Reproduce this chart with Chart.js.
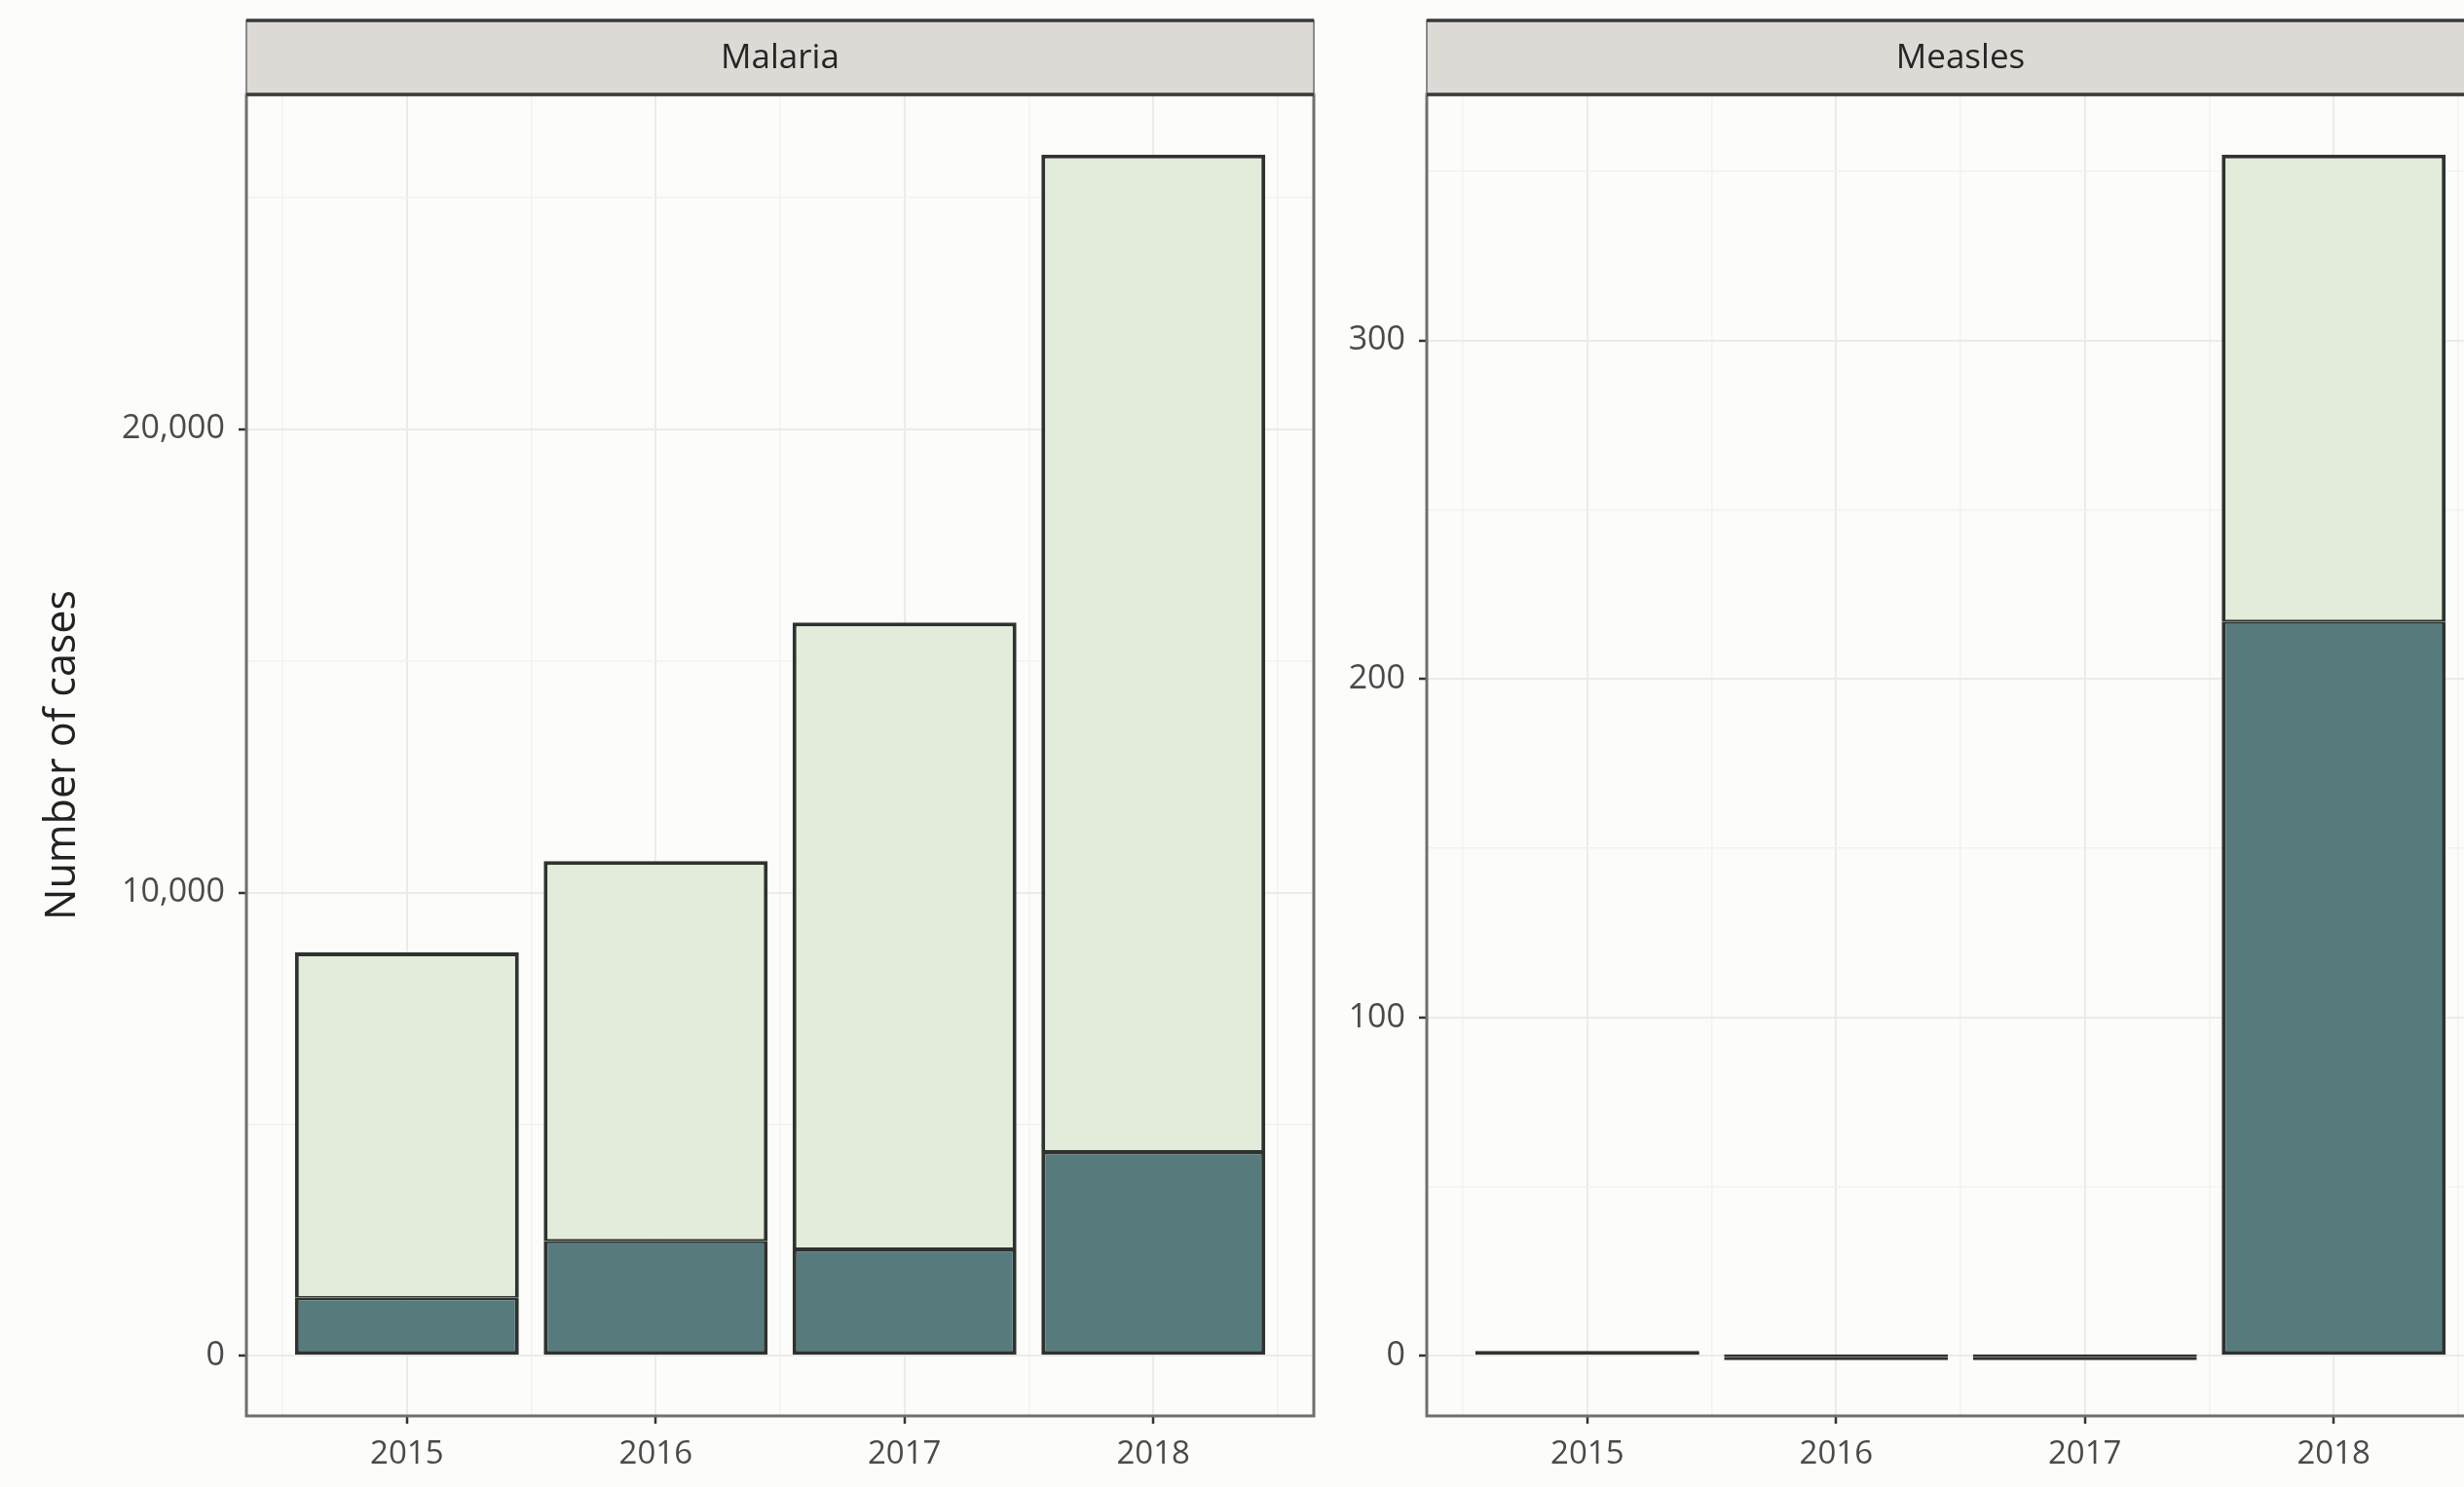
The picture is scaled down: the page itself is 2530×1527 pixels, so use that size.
<!DOCTYPE html>
<html>
<head>
<meta charset="utf-8">
<script src="https://cdn.jsdelivr.net/npm/chart.js@4.4.1/dist/chart.umd.min.js"></script>
<style>
    html, body { margin: 0; padding: 0; width: 2530px; height: 1527px; overflow: hidden; background: #fcfcfa; }
    canvas { position: absolute; top: 0; }
    #malariaChart { left: 0; }
    #measlesChart { left: 1352px; }
</style>
</head>
<body>
<canvas id="malariaChart" width="1400" height="1527"></canvas>
<canvas id="measlesChart" width="1260" height="1527"></canvas>
<script>
// data
const years = [2015, 2016, 2017, 2018];
const malariaLower = [1250, 2480, 2300, 4400];
const malariaUpper = [7460, 8200, 13530, 21530];
const measlesLower = [1, 0, 0, 217];
const measlesUpper = [0, 0, 0, 138];

// tick positions (major ones get labels, the others are minor grid lines)
const xMinorTicks = [2014.5, 2015.5, 2016.5, 2017.5, 2018.5];
const malariaTicks = [0, 5000, 10000, 15000, 20000, 25000];
const malariaMajor = [0, 10000, 20000];
const measlesTicks = [0, 50, 100, 150, 200, 250, 300, 350];
const measlesMajor = [0, 100, 200, 300];

const DARK = '#577b7d';
const LIGHT = '#e3ecda';
const OUTLINE = '#2e332f';
const FONT = "'Open Sans', 'Noto Sans', sans-serif";

// ggplot style 5% expansion on both ends
const expand = (lo, hi) => {
    const d = (hi - lo) * 0.05;
    return [lo - d, hi + d];
};

const tickVal = c => (c && c.tick) ? c.tick.value : null;

// grey strip above the panel with the facet name, plus the panel border
const facetPlugin = {
    id: 'facet',
    afterDraw(chart, args, opts) {
        const { ctx, chartArea: a } = chart;
        ctx.save();
        // panel border
        ctx.strokeStyle = '#6f6f6f';
        ctx.lineWidth = 3;
        ctx.strokeRect(a.left, a.top, a.right - a.left, a.bottom - a.top);
        // strip
        const top = a.top - 76;
        ctx.fillStyle = '#dddad6';
        ctx.fillRect(a.left, top, a.right - a.left, 76);
        ctx.strokeStyle = '#8a8a8a';
        ctx.lineWidth = 2;
        ctx.strokeRect(a.left, top, a.right - a.left, 76);
        ctx.strokeStyle = '#3a3a3a';
        ctx.lineWidth = 3.5;
        ctx.beginPath();
        ctx.moveTo(a.left, top); ctx.lineTo(a.right, top);
        ctx.moveTo(a.left, a.top); ctx.lineTo(a.right, a.top);
        ctx.stroke();
        ctx.fillStyle = '#262626';
        ctx.font = `35px ${FONT}`;
        ctx.textAlign = 'center';
        ctx.textBaseline = 'middle';
        ctx.fillText(opts.label, (a.left + a.right) / 2, top + 39);
        ctx.restore();
    }
};

const makePanel = (id, name, lower, upper, yTicks, yMajor, yAxisWidth, showTitle, minBar) => {
    const totals = lower.map((v, i) => v + upper[i]);
    const [yMin, yMax] = expand(0, Math.max(...totals));
    const [xMin, xMax] = expand(years[0] - 0.45, years[years.length - 1] + 0.45);
    const yIsMajor = v => v !== null && yMajor.includes(v);

    const barStyle = {
        xAxisID: 'x',
        yAxisID: 'y',
        borderColor: OUTLINE,
        borderSkipped: false,
        barPercentage: 0.9,
        categoryPercentage: 1.0,
        minBarLength: minBar
    };

    return new Chart(document.getElementById(id), {
        type: 'bar',
        data: {
            datasets: [
                {
                    label: 'lower',
                    data: years.map((y, i) => ({ x: y, y: lower[i] })),
                    backgroundColor: DARK,
                    borderWidth: { left: 4, right: 4, bottom: 4, top: 2.5 },
                    ...barStyle
                },
                {
                    label: 'upper',
                    data: years.map((y, i) => ({ x: y, y: upper[i] })),
                    backgroundColor: LIGHT,
                    borderWidth: { left: 4, right: 4, top: 4, bottom: 2 },
                    ...barStyle
                }
            ]
        },
        options: {
            responsive: false,
            animation: false,
            layout: { padding: { top: 97, right: 51, bottom: 0, left: 0 } },
            plugins: {
                legend: { display: false },
                tooltip: { enabled: false },
                facet: { label: name }
            },
            scales: {
                x: {
                    type: 'linear',
                    stacked: true,
                    offset: false,
                    min: xMin,
                    max: xMax,
                    afterBuildTicks: s => { s.ticks = years.map(v => ({ value: v })); },
                    afterFit: s => { s.height = 73; },
                    border: { display: false },
                    grid: {
                        offset: false,
                        color: '#ebebea',
                        lineWidth: 2,
                        tickLength: 8,
                        tickWidth: 2.5,
                        tickColor: '#333'
                    },
                    ticks: {
                        autoSkip: false,
                        maxRotation: 0,
                        padding: 12,
                        color: '#4a4a4a',
                        font: { family: FONT, size: 33 },
                        callback: v => String(v)
                    }
                },
                // minor vertical grid lines between the years
                xMinor: {
                    type: 'linear',
                    position: 'bottom',
                    offset: false,
                    min: xMin,
                    max: xMax,
                    afterBuildTicks: s => { s.ticks = xMinorTicks.map(v => ({ value: v })); },
                    afterFit: s => { s.height = 0; },
                    border: { display: false },
                    grid: { offset: false, color: '#f2f2f0', lineWidth: 1.5, drawTicks: false, tickLength: 0 },
                    ticks: { display: false }
                },
                y: {
                    stacked: true,
                    min: yMin,
                    max: yMax,
                    afterBuildTicks: s => { s.ticks = yTicks.map(v => ({ value: v })); },
                    afterFit: s => { s.width = yAxisWidth; },
                    border: { display: false },
                    grid: {
                        color: c => yIsMajor(tickVal(c)) ? '#ebebea' : '#f2f2f0',
                        lineWidth: c => yIsMajor(tickVal(c)) ? 2 : 1.5,
                        tickLength: 8,
                        tickWidth: 2.5,
                        tickColor: c => yIsMajor(tickVal(c)) ? '#333' : 'rgba(0,0,0,0)'
                    },
                    ticks: {
                        autoSkip: false,
                        padding: 14,
                        color: '#4a4a4a',
                        font: { family: FONT, size: 34 },
                        callback: v => yMajor.includes(v) ? v.toLocaleString('en-US') : ''
                    },
                    title: {
                        display: showTitle,
                        text: 'Number of cases',
                        color: '#222',
                        font: { family: FONT, size: 43 },
                        padding: { top: 39, bottom: 0 }
                    }
                }
            }
        },
        plugins: [facetPlugin]
    });
};

makePanel('malariaChart', 'Malaria', malariaLower, malariaUpper, malariaTicks, malariaMajor, 253, true, 0);
makePanel('measlesChart', 'Measles', measlesLower, measlesUpper, measlesTicks, measlesMajor, 113, false, 3);
</script>
</body>
</html>
